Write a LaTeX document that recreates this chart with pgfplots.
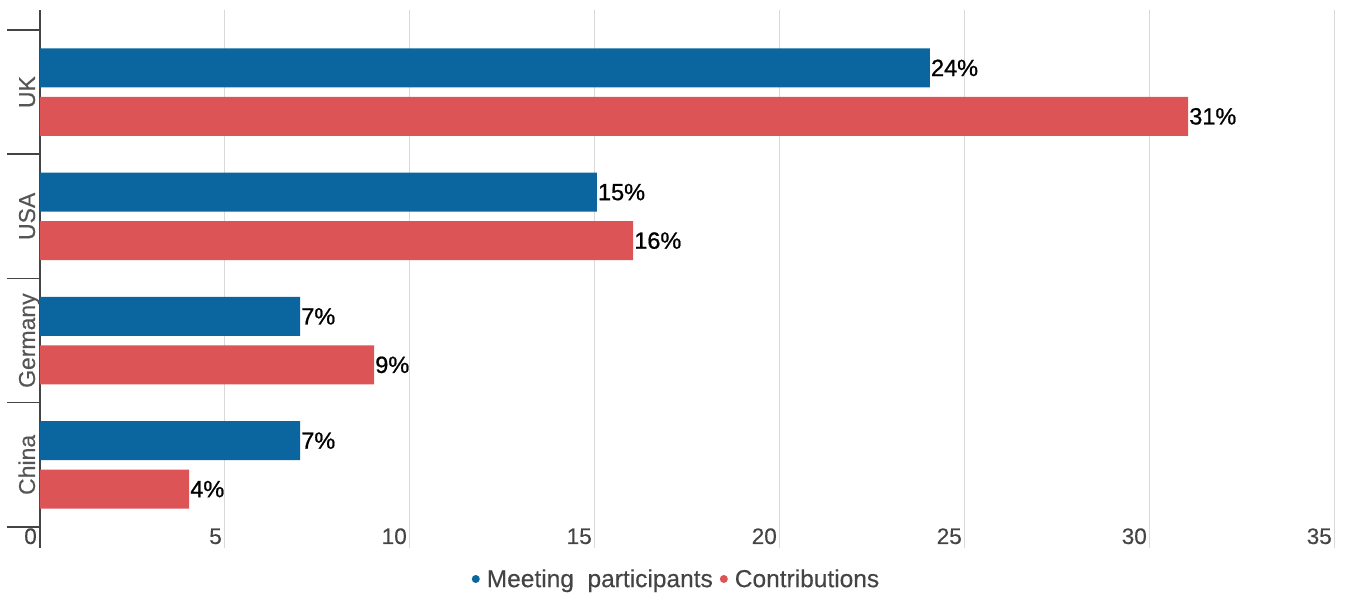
\documentclass[border=0pt]{standalone}
\usepackage{fontspec}
\setmainfont{Liberation Sans}
\newfontfamily\medfont[FakeBold=0.8]{Liberation Sans}
\newfontfamily\lightmed[FakeBold=0.3]{Liberation Sans}
\usepackage{pgfplots}
\usepackage{pgfplotstable}
\pgfplotsset{compat=1.18}
\definecolor{cblue}{RGB}{11,101,158}
\definecolor{cred}{RGB}{220,84,86}
\definecolor{tickgray}{RGB}{68,68,68}
\definecolor{labgray}{RGB}{85,85,85}
\definecolor{gridgray}{RGB}{217,217,217}
\pgfplotstableread{
y x lab
3.195 24.05 24
2.195 15.05 15
1.195 7.03 7
0.195 7.03 7
}\meeting
\pgfplotstableread{
y x lab
2.805 31.03 31
1.805 16.03 16
0.805 9.03 9
-0.195 4.03 4
}\contrib
\begin{document}
\begin{tikzpicture}[x=1pt,y=1pt]
\begin{axis}[
 scale only axis, width=1295pt, height=538pt,
 xmin=0, xmax=35, ymin=-0.669, ymax=3.661,
 axis x line*=bottom, axis y line*=left,
 x axis line style={draw=none},
 y axis line style={draw=tickgray, line width=2pt},
 xtick={0,5,...,35}, xticklabels={0,5,10,15,20,25,30,35},
 xmajorgrids, major grid style={draw=gridgray, line width=1pt},
 major tick length=0pt,
 tick align=outside,
 xticklabel style={anchor=base east, inner sep=0pt, xshift=-3pt, yshift=4pt, font=\lightmed\fontsize{22.5}{26}\selectfont, text=tickgray},
 ytick={0,1,2,3}, yticklabels={China,Germany,USA,UK},
 minor ytick={-0.5,0.5,1.5,2.5,3.5},
 minor tick length=33pt,
 minor tick style={draw=tickgray, line width=1.5pt},
 yticklabel style={xshift=-5pt, rotate=90, anchor=base, inner sep=0pt, font=\lightmed\fontsize{23}{27}\selectfont, text=labgray},
 xbar, bar width=39pt, bar shift=0pt,
 nodes near coords={\pgfplotspointmeta\%},
 point meta=explicit symbolic,
 nodes near coords style={anchor=west, inner sep=1pt, font=\medfont\fontsize{23.5}{27}\selectfont, text=black},
 legend style={at={(0.4915,0)}, anchor=center, yshift=-31pt, draw=none, fill=none, legend columns=2, font=\lightmed\fontsize{24.5}{28}\selectfont, text=tickgray, /tikz/every even column/.append style={column sep=5pt}},
 legend image code/.code={\fill[#1] (0pt,0pt) circle (4pt); \path (-4pt,0pt) (9pt,0pt);},
]
\addplot[fill=cblue, draw=none] table[x=x, y=y, meta=lab] {\meeting};
\addlegendentry{Meeting\ \ participants}
\addplot[fill=cred, draw=none] table[x=x, y=y, meta=lab] {\contrib};
\addlegendentry{Contributions}
\end{axis}
\pgfresetboundingbox
\path[use as bounding box] (-40,-45) rectangle (1307,548);
\end{tikzpicture}
\end{document}
